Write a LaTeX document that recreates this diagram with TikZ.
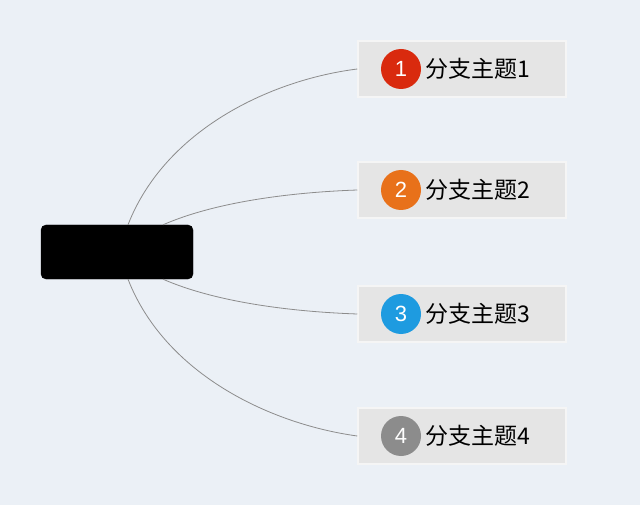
\documentclass[tikz,border=0pt]{standalone}
\usepackage{fontspec}
\newfontfamily\cjk{Noto Sans CJK SC}
\newfontfamily\numfont{Liberation Sans}
\usetikzlibrary{positioning}
\definecolor{bgcol}{HTML}{EBF0F6}
\definecolor{boxcol}{HTML}{E5E5E5}
\definecolor{linecol}{HTML}{8C8C8C}
\definecolor{cred}{HTML}{D92A0E}
\definecolor{corange}{HTML}{E8711A}
\definecolor{cblue}{HTML}{1E9BE0}
\definecolor{cgray}{HTML}{8C8C8C}

\begin{document}
\begin{tikzpicture}[x=1pt, y=-1pt,
    root/.style={draw=black, fill=black, rounded corners=5pt, minimum width=152pt, minimum height=54pt, inner sep=0pt},
    branch/.style={draw=white!60!boxcol, line width=1.5pt, fill=boxcol, minimum width=208pt, minimum height=56pt, inner sep=0pt},
    num/.style={circle, minimum size=40pt, inner sep=0pt, text=white, font=\numfont\fontsize{22}{22}\selectfont},
    label/.style={anchor=west, inner sep=0pt, font=\cjk\fontsize{23}{23}\selectfont},
    conn/.style={draw=linecol, line width=0.8pt}
]
\fill[bgcol] (0,0) rectangle (640,505);
\useasboundingbox (0,0) rectangle (640,505);

% central topic
\node[root] (root) at (117,252) {};

% branches
\node[branch] (b1) at (462,69)  {};
\node[branch] (b2) at (462,190) {};
\node[branch] (b3) at (462,314) {};
\node[branch] (b4) at (462,436) {};

\node[num, fill=cred]    (n1) at (401,69)  {1};
\node[num, fill=corange] (n2) at (401,190) {2};
\node[num, fill=cblue]   (n3) at (401,314) {3};
\node[num, fill=cgray]   (n4) at (401,436) {4};

\node[label, right=4pt of n1] (t1) {分支主题1};
\node[label, right=4pt of n2] (t2) {分支主题2};
\node[label, right=4pt of n3] (t3) {分支主题3};
\node[label, right=4pt of n4] (t4) {分支主题4};

% connectors
\draw[conn] ([xshift=11pt]root.north) .. controls (165,130) and (270,80) .. (b1.west);
\draw[conn] ([xshift=46pt]root.north) .. controls (220,200) and (300,192) .. (b2.west);
\draw[conn] ([xshift=46pt]root.south) .. controls (220,304) and (300,312) .. (b3.west);
\draw[conn] ([xshift=11pt]root.south) .. controls (165,374) and (270,424) .. (b4.west);
\end{tikzpicture}
\end{document}
